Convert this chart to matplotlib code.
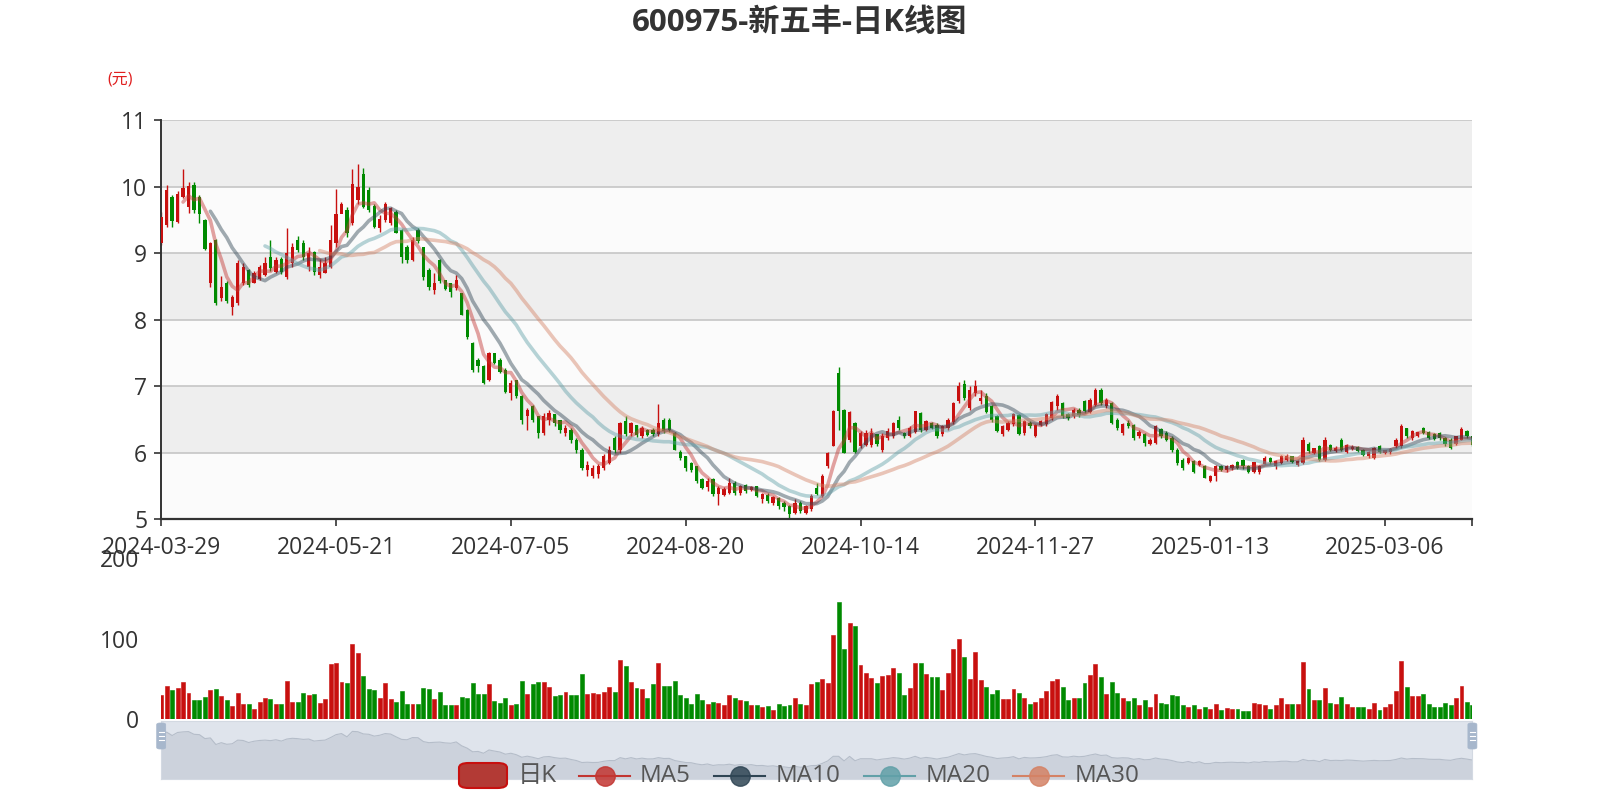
import numpy as np
import pandas as pd
import matplotlib
matplotlib.use('Agg')
import matplotlib.pyplot as plt
from matplotlib.patches import FancyBboxPatch
from matplotlib.lines import Line2D

plt.rcParams['font.family'] = ['Open Sans', 'Noto Sans CJK SC', 'DejaVu Sans']

title = '600975-新五丰-日K线图'
unit_label = '(元)'
xtick_labels = ['2024-03-29', '2024-05-21', '2024-07-05', '2024-08-20',
                '2024-10-14', '2024-11-27', '2025-01-13', '2025-03-06']
label_step = 32
legend_names = ['日K', 'MA5', 'MA10', 'MA20', 'MA30']
ma_windows = [5, 10, 20, 30]

open_ = [
    9.15, 9.42, 9.85, 9.47, 9.85, 9.70, 10.03, 9.85, 9.50, 8.55,
    9.20, 8.33, 8.55, 8.20, 8.25, 8.55, 8.75, 8.55, 8.62, 8.67,
    8.95, 8.72, 8.92, 8.65, 8.85, 9.20, 9.15, 8.80, 9.02, 8.68,
    8.70, 8.80, 9.15, 9.60, 9.65, 9.45, 9.80, 10.20, 9.95, 9.72,
    9.38, 9.50, 9.45, 9.62, 9.35, 9.10, 8.90, 9.35, 9.10, 8.75,
    8.45, 8.90, 8.60, 8.55, 8.48, 8.40, 8.15, 7.65, 7.40, 7.30,
    7.10, 7.50, 7.40, 7.25, 6.90, 7.10, 6.85, 6.55, 6.70, 6.55,
    6.30, 6.50, 6.58, 6.50, 6.30, 6.35, 6.20, 6.05, 5.75, 5.65,
    5.68, 5.78, 5.85, 6.22, 6.05, 6.48, 6.30, 6.42, 6.25, 6.35,
    6.35, 6.28, 6.50, 6.50, 6.30, 6.02, 5.95, 5.85, 5.80, 5.60,
    5.48, 5.60, 5.38, 5.37, 5.40, 5.55, 5.40, 5.52, 5.44, 5.50,
    5.30, 5.37, 5.25, 5.32, 5.25, 5.20, 5.10, 5.25, 5.10, 5.15,
    5.47, 5.35, 5.80, 6.10, 7.20, 6.65, 6.20, 6.45, 6.10, 6.12,
    6.12, 6.28, 6.05, 6.23, 6.25, 6.50, 6.30, 6.25, 6.32, 6.60,
    6.35, 6.45, 6.42, 6.28, 6.38, 6.47, 6.78, 7.03, 6.68, 6.90,
    6.78, 6.85, 6.70, 6.55, 6.28, 6.35, 6.43, 6.57, 6.30, 6.45,
    6.26, 6.42, 6.43, 6.52, 6.70, 6.75, 6.58, 6.55, 6.65, 6.78,
    6.62, 6.72, 6.95, 6.70, 6.75, 6.50, 6.30, 6.45, 6.42, 6.25,
    6.28, 6.14, 6.15, 6.36, 6.30, 6.22, 6.05, 5.90, 5.85, 5.88,
    5.82, 5.80, 5.58, 5.65, 5.80, 5.75, 5.77, 5.86, 5.90, 5.80,
    5.71, 5.72, 5.84, 5.93, 5.80, 5.85, 5.90, 5.95, 5.82, 5.85,
    6.14, 6.00, 6.10, 5.90, 6.12, 6.03, 6.20, 6.02, 6.06, 6.09,
    6.05, 5.95, 5.93, 6.10, 6.00, 6.01, 6.10, 6.10, 6.37, 6.23,
    6.26, 6.37, 6.32, 6.28, 6.30, 6.23, 6.20, 6.14, 6.20, 6.33,
    6.25]

close = [
    9.55, 9.95, 9.48, 9.90, 9.98, 10.02, 9.65, 9.60, 9.06, 9.15,
    8.25, 8.50, 8.28, 8.35, 8.85, 8.80, 8.52, 8.70, 8.80, 8.85,
    8.78, 8.90, 8.72, 9.00, 9.10, 9.05, 8.95, 9.00, 8.72, 8.80,
    8.85, 9.20, 9.60, 9.75, 9.30, 10.05, 10.00, 9.70, 9.65, 9.40,
    9.52, 9.75, 9.68, 9.30, 8.95, 8.90, 9.20, 9.18, 8.65, 8.50,
    8.55, 8.58, 8.47, 8.42, 8.60, 8.07, 7.75, 7.25, 7.30, 7.05,
    7.50, 7.35, 7.22, 6.92, 7.05, 6.85, 6.50, 6.65, 6.50, 6.30,
    6.55, 6.60, 6.45, 6.35, 6.38, 6.20, 6.05, 5.78, 5.82, 5.78,
    5.80, 5.95, 6.05, 6.04, 6.45, 6.28, 6.45, 6.27, 6.38, 6.27,
    6.28, 6.45, 6.33, 6.35, 6.05, 5.92, 5.78, 5.75, 5.58, 5.47,
    5.58, 5.38, 5.47, 5.45, 5.55, 5.40, 5.50, 5.43, 5.49, 5.35,
    5.38, 5.27, 5.33, 5.20, 5.18, 5.08, 5.25, 5.13, 5.20, 5.35,
    5.38, 5.66, 6.00, 6.63, 6.63, 6.00, 6.62, 6.02, 6.30, 6.30,
    6.30, 6.13, 6.25, 6.33, 6.45, 6.38, 6.25, 6.38, 6.63, 6.35,
    6.48, 6.38, 6.25, 6.40, 6.50, 6.75, 7.00, 6.82, 6.95, 7.00,
    6.82, 6.62, 6.50, 6.33, 6.40, 6.45, 6.58, 6.28, 6.48, 6.40,
    6.42, 6.48, 6.58, 6.77, 6.85, 6.55, 6.52, 6.65, 6.57, 6.63,
    6.80, 6.95, 6.75, 6.80, 6.45, 6.38, 6.43, 6.40, 6.22, 6.32,
    6.15, 6.20, 6.40, 6.25, 6.20, 6.05, 5.85, 5.77, 5.92, 5.72,
    5.88, 5.63, 5.65, 5.80, 5.75, 5.80, 5.82, 5.78, 5.80, 5.72,
    5.86, 5.80, 5.92, 5.86, 5.88, 5.95, 5.96, 5.87, 5.88, 6.20,
    6.03, 6.07, 5.90, 6.20, 6.05, 6.08, 6.05, 6.12, 6.09, 6.03,
    5.97, 6.02, 6.07, 6.02, 6.04, 6.06, 6.20, 6.40, 6.25, 6.33,
    6.31, 6.30, 6.23, 6.21, 6.22, 6.13, 6.08, 6.25, 6.36, 6.25,
    6.12]

low = [
    9.12, 9.40, 9.39, 9.46, 9.83, 9.60, 9.60, 9.45, 9.05, 8.50,
    8.22, 8.28, 8.26, 8.08, 8.23, 8.52, 8.50, 8.55, 8.60, 8.66,
    8.73, 8.70, 8.69, 8.62, 8.80, 9.02, 8.90, 8.73, 8.67, 8.63,
    8.70, 8.78, 9.10, 9.60, 9.25, 9.42, 9.75, 9.68, 9.62, 9.38,
    9.32, 9.47, 9.43, 9.30, 8.85, 8.85, 8.88, 9.15, 8.60, 8.45,
    8.39, 8.55, 8.45, 8.35, 8.45, 8.07, 7.72, 7.22, 7.22, 7.03,
    7.08, 7.33, 7.20, 6.90, 6.80, 6.83, 6.43, 6.35, 6.47, 6.22,
    6.27, 6.42, 6.40, 6.30, 6.25, 6.15, 6.00, 5.75, 5.65, 5.62,
    5.62, 5.75, 5.84, 6.00, 6.00, 6.25, 6.25, 6.24, 6.22, 6.25,
    6.25, 6.26, 6.30, 6.32, 6.04, 5.90, 5.73, 5.72, 5.55, 5.45,
    5.43, 5.35, 5.22, 5.35, 5.38, 5.37, 5.37, 5.40, 5.42, 5.33,
    5.25, 5.25, 5.22, 5.15, 5.13, 5.02, 5.08, 5.10, 5.08, 5.13,
    5.36, 5.33, 5.78, 6.10, 6.35, 6.00, 6.17, 6.00, 6.08, 6.10,
    6.09, 6.10, 6.02, 6.20, 6.22, 6.35, 6.22, 6.24, 6.30, 6.31,
    6.33, 6.36, 6.22, 6.25, 6.35, 6.44, 6.75, 6.80, 6.64, 6.85,
    6.73, 6.60, 6.47, 6.31, 6.26, 6.33, 6.40, 6.27, 6.27, 6.38,
    6.24, 6.40, 6.41, 6.50, 6.65, 6.53, 6.50, 6.53, 6.54, 6.60,
    6.60, 6.70, 6.72, 6.67, 6.44, 6.35, 6.27, 6.38, 6.20, 6.23,
    6.11, 6.12, 6.13, 6.23, 6.18, 6.02, 5.82, 5.75, 5.83, 5.70,
    5.80, 5.62, 5.56, 5.58, 5.73, 5.72, 5.74, 5.76, 5.76, 5.70,
    5.70, 5.69, 5.83, 5.84, 5.76, 5.84, 5.88, 5.85, 5.80, 5.84,
    6.00, 5.98, 5.88, 5.88, 6.03, 6.02, 6.03, 6.00, 6.04, 6.01,
    5.95, 5.92, 5.91, 6.00, 5.98, 5.99, 6.08, 6.08, 6.23, 6.20,
    6.24, 6.28, 6.21, 6.20, 6.20, 6.10, 6.06, 6.12, 6.19, 6.23,
    6.10]

high = [
    9.62, 10.03, 9.88, 9.94, 10.27, 10.07, 10.07, 9.88, 9.52, 9.17,
    9.22, 8.66, 8.59, 8.38, 8.90, 8.86, 8.76, 8.73, 8.82, 8.94,
    9.20, 8.95, 8.95, 9.38, 9.15, 9.26, 9.20, 9.10, 9.03, 8.92,
    8.95, 9.42, 9.97, 9.78, 9.70, 10.27, 10.35, 10.28, 10.00, 9.75,
    9.58, 9.78, 9.70, 9.65, 9.37, 9.12, 9.25, 9.38, 9.10, 8.78,
    8.70, 8.92, 8.60, 8.55, 8.67, 8.40, 8.17, 7.67, 7.42, 7.32,
    7.52, 7.50, 7.42, 7.27, 7.10, 7.10, 6.87, 6.68, 6.72, 6.55,
    6.60, 6.65, 6.58, 6.50, 6.42, 6.37, 6.22, 6.07, 5.88, 5.82,
    5.83, 5.98, 6.10, 6.25, 6.47, 6.55, 6.47, 6.42, 6.40, 6.36,
    6.37, 6.74, 6.52, 6.52, 6.32, 6.04, 5.96, 5.86, 5.80, 5.62,
    5.62, 5.62, 5.50, 5.48, 5.62, 5.58, 5.51, 5.53, 5.50, 5.50,
    5.39, 5.39, 5.35, 5.33, 5.27, 5.22, 5.30, 5.28, 5.22, 5.38,
    5.55, 5.69, 6.02, 6.64, 7.29, 6.66, 6.63, 6.47, 6.33, 6.34,
    6.37, 6.28, 6.30, 6.37, 6.47, 6.55, 6.32, 6.40, 6.63, 6.62,
    6.50, 6.47, 6.45, 6.42, 6.53, 6.77, 7.07, 7.10, 7.00, 7.10,
    6.95, 6.90, 6.72, 6.57, 6.42, 6.48, 6.60, 6.58, 6.50, 6.48,
    6.44, 6.50, 6.60, 6.78, 6.88, 6.77, 6.60, 6.67, 6.67, 6.80,
    6.83, 6.98, 6.97, 6.83, 6.77, 6.52, 6.45, 6.50, 6.43, 6.35,
    6.30, 6.22, 6.42, 6.38, 6.33, 6.25, 6.07, 5.92, 5.94, 5.90,
    5.90, 5.82, 5.67, 5.82, 5.82, 5.82, 5.83, 5.88, 5.91, 5.82,
    5.87, 5.82, 5.95, 5.94, 5.90, 5.97, 5.98, 5.96, 5.90, 6.24,
    6.16, 6.08, 6.12, 6.24, 6.14, 6.10, 6.22, 6.14, 6.12, 6.10,
    6.06, 6.03, 6.09, 6.12, 6.05, 6.08, 6.22, 6.43, 6.38, 6.35,
    6.32, 6.39, 6.33, 6.30, 6.31, 6.24, 6.22, 6.26, 6.39, 6.35,
    6.26]

volume = [
    29.8, 41.0, 36.0, 39.0, 46.0, 33.0, 23.5, 23.5, 28.0, 36.0,
    38.0, 28.5, 23.5, 17.0, 33.0, 18.6, 19.4, 13.0, 21.0, 27.0,
    25.0, 19.0, 19.4, 48.0, 22.0, 21.0, 32.6, 30.0, 31.0, 20.0,
    25.0, 68.6, 70.0, 46.7, 44.6, 93.0, 83.0, 54.0, 38.0, 37.0,
    27.0, 44.6, 24.8, 22.0, 35.0, 18.6, 19.4, 19.0, 39.0, 38.0,
    25.6, 34.0, 18.0, 18.0, 17.4, 27.7, 27.0, 44.6, 31.0, 32.0,
    43.4, 22.3, 20.0, 27.0, 17.8, 19.0, 48.0, 31.0, 43.4, 47.0,
    46.7, 39.7, 29.0, 30.0, 33.5, 30.6, 30.0, 56.0, 32.0, 32.6,
    32.0, 34.3, 40.5, 34.0, 74.0, 66.0, 46.0, 39.0, 38.0, 26.0,
    44.0, 70.0, 42.0, 41.0, 48.0, 30.0, 27.0, 19.4, 32.0, 23.5,
    19.0, 22.0, 20.7, 18.0, 30.6, 26.0, 24.0, 23.0, 18.0, 17.4,
    15.7, 16.5, 12.0, 18.6, 17.0, 18.0, 27.0, 19.0, 17.4, 44.0,
    46.0, 49.6, 45.0, 105.0, 146.0, 87.0, 119.0, 116.0, 68.0, 58.0,
    51.0, 45.0, 54.0, 55.0, 64.0, 57.0, 30.6, 39.0, 70.0, 70.0,
    56.0, 52.0, 53.0, 37.0, 57.0, 87.0, 100.0, 77.0, 49.6, 84.0,
    49.0, 40.5, 32.0, 37.0, 25.6, 25.0, 38.0, 33.0, 26.0, 19.4,
    21.5, 27.0, 35.5, 48.0, 50.4, 40.5, 24.4, 26.0, 27.0, 45.0,
    54.5, 69.0, 53.0, 31.0, 46.0, 33.0, 27.0, 23.0, 27.0, 18.0,
    24.0, 15.7, 32.0, 20.7, 19.4, 30.0, 29.0, 17.4, 15.3, 18.0,
    13.0, 15.0, 12.4, 18.6, 12.0, 14.0, 12.4, 12.8, 11.0, 10.7,
    20.0, 18.6, 17.8, 12.4, 17.4, 27.0, 19.4, 19.4, 18.6, 70.7,
    38.0, 24.0, 24.0, 39.0, 20.0, 18.6, 27.7, 19.0, 16.0, 15.7,
    16.0, 12.4, 20.0, 11.6, 15.3, 18.6, 35.5, 72.0, 40.5, 29.0,
    29.0, 31.0, 19.4, 15.0, 15.0, 20.0, 17.4, 26.0, 41.0, 21.0,
    17.4]

# ---------------- styles ----------------
UP = '#c8100f'
DOWN = '#008a00'
MA_COLORS = ['#c23531', '#2f4554', '#61a0a8', '#d48265']
BAND_DARK = '#eeeeee'
BAND_LIGHT = '#fbfbfb'
GRID = '#c6c6c6'
TEXT = '#333333'
TICK_FS = 16.5

W, H = 1600, 800


def rect(x0, y0, x1, y1):
    return [x0 / W, 1 - y1 / H, (x1 - x0) / W, (y1 - y0) / H]


o = np.array(open_)
c = np.array(close)
lo = np.array(low)
hi = np.array(high)
vol = np.array(volume)
n = len(c)
idx = np.arange(n)
up = c >= o
cols = np.where(up, UP, DOWN)

fig = plt.figure(figsize=(16, 8), dpi=100)
fig.patch.set_facecolor('white')

# ---------------- main price axes ----------------
ax = fig.add_axes(rect(161.2, 120.4, 1472.4, 519.4))
ax.set_xlim(0, n - 1)
ax.set_ylim(5, 11)
for k in range(5, 11):
    ax.axhspan(k, k + 1, color=(BAND_DARK if (k % 2 == 0) else BAND_LIGHT), zorder=0, lw=0)
for k in range(6, 12):
    ax.axhline(k, color=GRID, lw=1.2, zorder=0.5)

ax.vlines(idx, lo, hi, colors=cols, lw=1.0, zorder=2)
body_h = np.maximum(np.abs(c - o), 0.012)
ax.bar(idx, body_h, bottom=np.minimum(o, c), width=0.6, color=cols, lw=0, zorder=3)

cs = pd.Series(c)
for w, col in zip(ma_windows, MA_COLORS):
    ma = cs.rolling(w).mean()
    ax.plot(idx, ma, color=col, lw=2.6, alpha=0.45, solid_capstyle='round',
            solid_joinstyle='round', zorder=4)

for s in ['top', 'right']:
    ax.spines[s].set_visible(False)
ax.spines['left'].set_color(TEXT)
ax.spines['left'].set_linewidth(1.4)
ax.spines['bottom'].set_color(TEXT)
ax.spines['bottom'].set_linewidth(1.6)
ax.set_yticks(range(5, 12))
ax.set_yticklabels([str(v) for v in range(5, 12)])
ax.tick_params(axis='y', direction='out', length=5, width=1.2, color=TEXT,
               labelsize=TICK_FS, labelcolor=TEXT, pad=5)
tick_pos = [i * label_step for i in range(len(xtick_labels))]
ax.set_xticks(tick_pos)
ax.set_xticklabels(xtick_labels)
ax.tick_params(axis='x', direction='out', length=5, width=1.2, color=TEXT,
               labelsize=TICK_FS, labelcolor=TEXT, pad=7)
ax.set_xticks([n - 1], minor=True)
ax.tick_params(axis='x', which='minor', direction='out', length=5, width=1.2, color=TEXT)

# ---------------- volume axes ----------------
axv = fig.add_axes(rect(161.2, 558.2, 1472.4, 719.4))
axv.set_xlim(0, n - 1)
axv.set_ylim(0, 200)
axv.bar(idx, vol, width=0.72, color=cols, edgecolor=cols, lw=0.4, zorder=2)
for s in ['top', 'right', 'bottom', 'left']:
    axv.spines[s].set_visible(False)
axv.set_xticks([])
axv.set_yticks([0, 100, 200])
axv.tick_params(axis='y', length=0, labelsize=TICK_FS, labelcolor=TEXT, pad=16)
axv.patch.set_alpha(0)

# ---------------- data zoom slider ----------------
axs = fig.add_axes(rect(161.2, 720.5, 1472.4, 778.5))
axs.set_xlim(0, n - 1)
axs.set_ylim(0, 1)
axs.set_facecolor('#dfe4ec')
ext = c.max() - c.min()
lo_e, hi_e = c.min() - 0.3 * ext, c.max() + 0.3 * ext
shadow = (c - lo_e) / (hi_e - lo_e)
axs.fill_between(idx, 0, shadow, color='#ccd2dc', lw=0, zorder=1)
axs.plot(idx, shadow, color='#b5bdc9', lw=0.8, zorder=2)
for s in axs.spines.values():
    s.set_color('#d3d9e2')
    s.set_linewidth(0.8)
axs.set_xticks([])
axs.set_yticks([])

for hx in (161.2, 1472.4):
    hb = FancyBboxPatch(((hx - 4.5) / W, 1 - 749 / H), 9 / W, 26 / H,
                        boxstyle='round,pad=0,rounding_size=0.002',
                        transform=fig.transFigure, facecolor='#a7b7cc',
                        edgecolor='#a7b7cc', lw=0.5, zorder=10)
    fig.add_artist(hb)
    for dy in (-4, 0, 4):
        fig.add_artist(Line2D([(hx - 2.5) / W, (hx + 2.5) / W],
                              [1 - (736 + dy) / H, 1 - (736 + dy) / H],
                              transform=fig.transFigure, color='white', lw=0.8, zorder=11))

# ---------------- title / unit ----------------
fig.text(800 / W, 1 - 23 / H, title, ha='center', va='center', fontsize=22.5,
         fontweight='bold', color=TEXT)
fig.text(120 / W, 1 - 79 / H, unit_label, ha='center', va='center', fontsize=11.5,
         color='#e02020')

# ---------------- legend ----------------
ly = 1 - 775.5 / H
LEG_FS = 17.5
fig.add_artist(FancyBboxPatch((459 / W, 1 - 788 / H), 48 / W, 25 / H,
                              boxstyle='round,pad=0,rounding_size=0.006',
                              transform=fig.transFigure, facecolor='#b33a35',
                              edgecolor=UP, lw=1.5, zorder=12))
fig.text(518 / W, ly, legend_names[0], ha='left', va='center', fontsize=LEG_FS,
         color='#555555', zorder=12)
leg_x = [(579, 640), (714, 776), (864, 926), (1013, 1075)]
for (lx, tx), name, col in zip(leg_x, legend_names[1:], MA_COLORS):
    fig.add_artist(Line2D([lx / W, (lx + 51) / W], [ly, ly], transform=fig.transFigure,
                          color=col, lw=1.5, zorder=12))
    fig.add_artist(Line2D([(lx + 25.5) / W], [ly], transform=fig.transFigure,
                          marker='o', markersize=14, color=col, markeredgecolor=col,
                          alpha=0.85, zorder=13))
    fig.text(tx / W, ly, name, ha='left', va='center', fontsize=LEG_FS,
             color='#555555', zorder=12)

fig.savefig('out.png', dpi=100, facecolor='white')
